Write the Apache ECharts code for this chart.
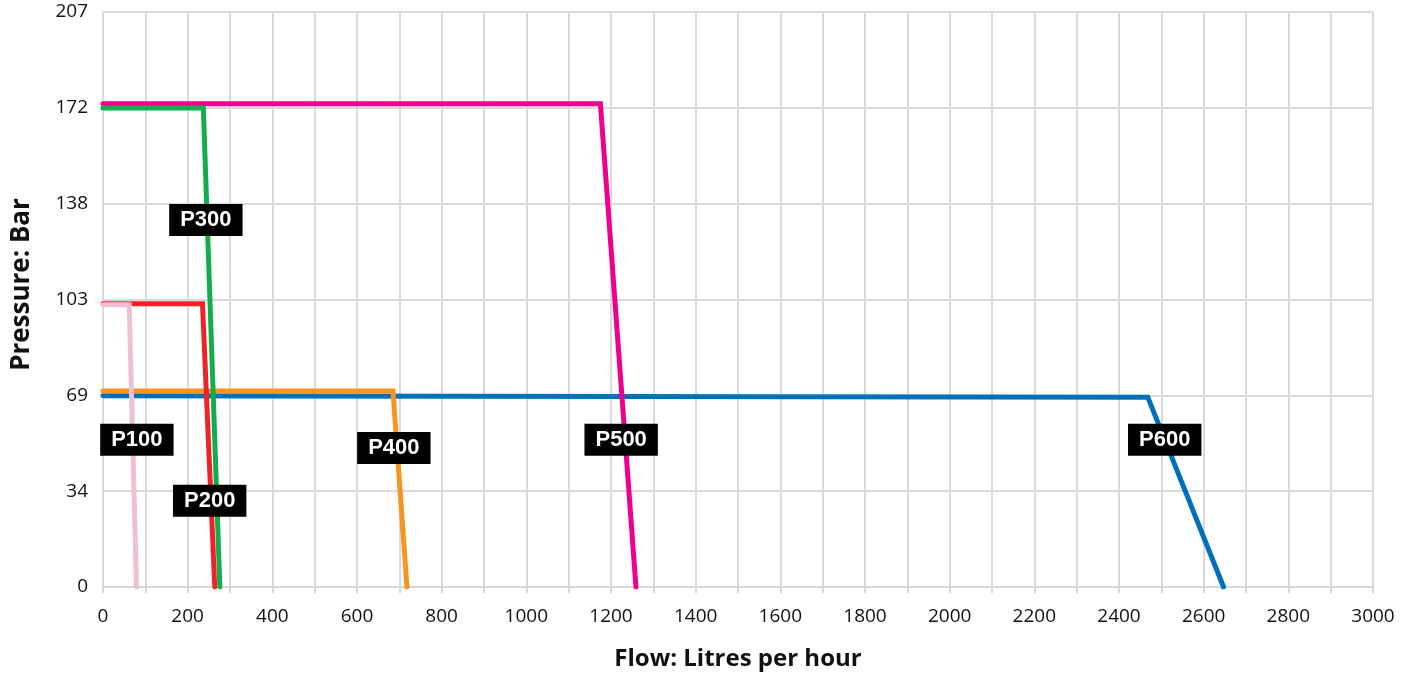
<!DOCTYPE html>
<html>
<head>
<meta charset="utf-8">
<script src="https://cdn.jsdelivr.net/npm/echarts@6/dist/echarts.min.js"></script>
<style>
html,body{margin:0;padding:0;background:#fff;}
#chart{width:1404px;height:674px;}
</style>
</head>
<body>
<div id="chart"></div>
<script>
// Series: [flow (L/h), pressure (bar)]
const seriesNames = ['P600', 'P400', 'P500', 'P300', 'P200', 'P100'];
const seriesColors = ['#0070BA', '#F7931E', '#EC008C', '#13AD4B', '#EE2229', '#EEC0D5'];
const p600 = [[0, 68.8], [2468, 68.3], [2647, 0]];
const p400 = [[0, 70.5], [685, 70.5], [718, 0]];
const p500 = [[0, 173.8], [1175, 173.8], [1259, 0]];
const p300 = [[0, 172.3], [237, 172.3], [276, 0]];
const p200 = [[0, 101.9], [235, 101.9], [264, 0]];
const p100 = [[0, 101.5], [62, 101.5], [79, 0]];
const seriesData = [p600, p400, p500, p300, p200, p100];

// Label anchors in data coordinates
const labelNames = ['P100', 'P200', 'P300', 'P400', 'P500', 'P600'];
const labelPoints = [[80, 53], [252, 31], [243, 132], [687, 50], [1224, 53], [2508, 53]];

const yInterval = 34.4738; // 500 psi in bar
const yMax = yInterval * 6;

const chart = echarts.init(document.getElementById('chart'), null, {renderer: 'canvas'});

const series = seriesData.map((d, i) => ({
  name: seriesNames[i],
  type: 'line',
  data: d,
  symbol: 'none',
  z: 2 + i,
  lineStyle: {color: seriesColors[i], width: 5, cap: 'round', join: 'miter'},
  animation: false
}));

series.push({
  type: 'scatter',
  symbolSize: 1,
  z: 20,
  animation: false,
  itemStyle: {opacity: 0},
  emphasis: {disabled: true},
  data: labelPoints.map((p, i) => ({value: p, name: labelNames[i]})),
  label: {
    show: true,
    position: 'inside',
    opacity: 1,
    formatter: p => p.name,
    color: '#fff',
    backgroundColor: '#000',
    fontFamily: 'Liberation Sans, Arial, sans-serif',
    fontWeight: 'bold',
    fontSize: 22,
    lineHeight: 22,
    padding: [5, 11, 5, 11]
  }
});

chart.setOption({
  backgroundColor: '#fff',
  animation: false,
  grid: {left: 103, right: 31, top: 12, bottom: 87, containLabel: false, outerBoundsMode: 'none'},
  xAxis: {
    type: 'value',
    min: 0,
    max: 3000,
    interval: 100,
    name: 'Flow: Litres per hour',
    nameLocation: 'middle',
    nameGap: 60,
    nameTextStyle: {fontFamily: 'Open Sans', fontWeight: 'bold', fontSize: 24, color: '#111'},
    axisLine: {show: true, lineStyle: {color: '#d6d6d6', width: 2}},
    axisTick: {show: true, length: 6, lineStyle: {color: '#d6d6d6', width: 2}},
    axisLabel: {
      formatter: v => (Math.round(v) % 200 === 0 ? String(Math.round(v)) : ''),
      fontFamily: 'Open Sans',
      fontSize: 19,
      color: '#111',
      margin: 20
    },
    splitLine: {show: true, lineStyle: {color: '#d9d9d9', width: 2}}
  },
  yAxis: {
    type: 'value',
    min: 0,
    max: yMax,
    interval: yInterval,
    name: 'Pressure: Bar',
    nameLocation: 'middle',
    nameGap: 68,
    nameTextStyle: {fontFamily: 'Open Sans', fontWeight: 'bold', fontSize: 26, color: '#111', padding: [0, 0, 0, 30]},
    axisLine: {show: false},
    axisTick: {show: false},
    axisLabel: {
      formatter: v => String(Math.round(v)),
      fontFamily: 'Open Sans',
      fontSize: 19,
      color: '#111',
      margin: 15
    },
    splitLine: {show: true, lineStyle: {color: '#d9d9d9', width: 2}}
  },
  series: series
});
</script>
</body>
</html>
